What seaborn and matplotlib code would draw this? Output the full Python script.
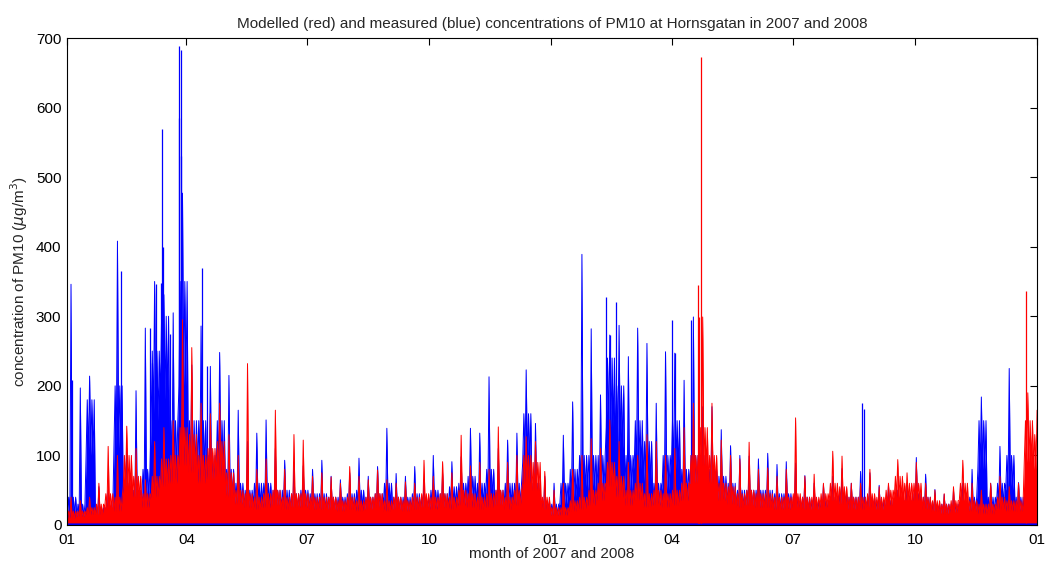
import numpy as np
import pandas as pd
import matplotlib
matplotlib.use("Agg")
import matplotlib.pyplot as plt
import seaborn as sns

# ---------------- data ----------------
start_date = "2007-01-01"
end_date = "2009-01-01"
month_labels = ["01", "04", "07", "10", "01", "04", "07", "10", "01"]
y_ticks = [0, 100, 200, 300, 400, 500, 600, 700]

# weekly maximum spikes (ug/m3), week 0 starts 2007-01-01
blue_max = [346, 197, 214, 55, 50, 408, 110, 193, 283, 350,
            331, 305, 477, 230, 286, 228, 248, 215, 165, 120,
            132, 151, 110, 93, 90, 85, 80, 93, 70, 65,
            75, 96, 70, 84, 139, 74, 70, 84, 65, 100,
            75, 91, 98, 139, 132, 213, 110, 122, 132, 223,
            146, 70, 60, 129, 177, 389, 282, 187, 273, 287,
            242, 283, 261, 175, 249, 247, 208, 299, 170, 170,
            137, 114, 100, 99, 95, 103, 87, 91, 89, 71,
            60, 58, 70, 81, 60, 77, 75, 57, 57, 50,
            60, 97, 73, 51, 44, 50, 60, 80, 184, 60,
            113, 225, 61, 40, 25]
red_max = [40, 35, 40, 60, 113, 100, 142, 110, 65, 120,
           140, 150, 295, 255, 175, 160, 175, 130, 100, 232,
           80, 95, 165, 80, 130, 122, 70, 75, 69, 60,
           84, 70, 65, 79, 65, 60, 62, 60, 93, 70,
           91, 75, 129, 85, 90, 80, 141, 90, 100, 127,
           120, 77, 50, 60, 80, 100, 124, 110, 151, 120,
           90, 100, 130, 120, 100, 110, 140, 175, 299, 175,
           122, 100, 95, 119, 80, 82, 70, 80, 154, 70,
           73, 60, 106, 99, 60, 60, 80, 55, 60, 94,
           75, 90, 60, 50, 45, 55, 93, 60, 50, 60,
           70, 55, 60, 190, 165]
# weekly top of the dense band
blue_mid = [40, 30, 180, 25, 25, 200, 60, 50, 80, 250,
            300, 150, 350, 150, 150, 100, 150, 80, 60, 50,
            60, 60, 50, 50, 45, 50, 45, 45, 40, 40,
            45, 50, 40, 45, 60, 40, 40, 45, 40, 50,
            45, 55, 60, 70, 60, 80, 50, 60, 60, 160,
            60, 35, 30, 60, 80, 100, 100, 100, 240, 200,
            100, 150, 120, 60, 100, 150, 80, 100, 100, 80,
            70, 60, 50, 50, 50, 50, 45, 45, 40, 40,
            35, 35, 40, 45, 40, 40, 40, 35, 35, 35,
            35, 45, 40, 30, 30, 30, 35, 40, 150, 40,
            60, 100, 40, 20, 15]
red_mid = [20, 20, 25, 30, 45, 40, 100, 70, 45, 70,
           95, 100, 140, 130, 100, 110, 120, 75, 50, 45,
           40, 45, 50, 40, 45, 45, 40, 40, 40, 35,
           40, 35, 40, 45, 35, 40, 35, 40, 45, 40,
           45, 40, 50, 45, 40, 45, 50, 40, 50, 100,
           90, 40, 25, 25, 35, 40, 50, 60, 90, 70,
           50, 60, 45, 50, 45, 50, 60, 100, 140, 100,
           60, 55, 45, 50, 45, 45, 40, 40, 45, 40,
           40, 45, 60, 55, 40, 40, 45, 40, 50, 70,
           60, 60, 40, 35, 30, 35, 60, 35, 30, 30,
           40, 35, 35, 150, 130]
# weekly level up to which the band is solid
blue_low = [15, 12, 100, 10, 10, 110, 30, 25, 40, 150,
            180, 80, 200, 80, 80, 50, 80, 40, 30, 25,
            30, 30, 25, 25, 20, 25, 22, 22, 20, 20,
            22, 25, 20, 22, 30, 20, 20, 22, 20, 25,
            22, 28, 30, 35, 30, 40, 25, 30, 30, 90,
            30, 16, 14, 30, 40, 50, 50, 50, 140, 110,
            50, 80, 60, 30, 50, 80, 40, 50, 50, 40,
            35, 30, 25, 25, 25, 25, 22, 22, 20, 20,
            18, 18, 20, 22, 20, 20, 20, 18, 18, 18,
            18, 22, 20, 15, 15, 15, 18, 20, 80, 20,
            30, 50, 20, 10, 8]
red_low = [10, 12, 15, 15, 25, 20, 55, 40, 25, 40,
           55, 60, 85, 75, 60, 65, 70, 40, 30, 25,
           22, 25, 28, 22, 25, 25, 22, 22, 22, 20,
           22, 20, 22, 25, 20, 22, 20, 22, 25, 22,
           25, 22, 28, 25, 22, 25, 28, 22, 28, 60,
           50, 22, 14, 14, 20, 22, 28, 35, 55, 40,
           28, 35, 25, 28, 25, 28, 35, 60, 85, 60,
           35, 30, 25, 28, 25, 25, 22, 22, 25, 22,
           22, 25, 35, 30, 22, 22, 25, 22, 28, 40,
           35, 35, 22, 20, 16, 18, 35, 20, 16, 16,
           22, 20, 20, 90, 80]
red_floor = 3

# individual extra spikes (day since 2007-01-01, value)
blue_extra_day = [4, 40.5, 62.5, 64.3, 66.8, 70.6, 71.3, 72.3, 78, 84.2,
                  84.4, 85.7, 85.8, 102, 105.7, 406.2, 409.2, 414, 456, 458,
                  470, 600.5, 599]
blue_extra_val = [209, 365, 283, 233, 346, 348, 569, 400, 274, 585,
                  688, 683, 530, 370, 228, 328, 273, 321, 294, 247,
                  294, 167, 176]
red_extra_day = [475.3, 476, 477.5, 722.4]
red_extra_val = [345, 299, 673, 336]

title = "Modelled (red) and measured (blue) concentrations of PM10 at Hornsgatan in 2007 and 2008"
xlabel = "month of 2007 and 2008"
ylabel = r"concentration of PM10 ($\mu$g/m$^3$)"

# ---------------- build tables ----------------
step = 7 / 8


def zigzag(mx, mid, low):
    xs, ys = [], []
    for w in range(len(mx)):
        vals = [low[w], mid[w], low[w], mx[w], low[w], mid[w], low[w], mid[w]]
        for k, v in enumerate(vals):
            xs.append(7 * w + step * (k + 0.5))
            ys.append(v)
    return pd.DataFrame({"day": xs, "conc": ys})


blue_df = zigzag(blue_max, blue_mid, blue_low)
red_df = zigzag(red_max, red_mid, red_low)

t0 = pd.Timestamp(start_date)
tick_dates = pd.date_range(start_date, end_date, freq="3MS")
tick_days = [(d - t0).days for d in tick_dates]
total_days = (pd.Timestamp(end_date) - t0).days

# ---------------- plot ----------------
sns.set_theme(style="white")
plt.rcParams["font.family"] = ["Liberation Sans", "DejaVu Sans"]
plt.rcParams["mathtext.fontset"] = "dejavusans"

fig = plt.figure(figsize=(10.46, 5.63), dpi=100)
ax = fig.add_axes([0.064, 0.0675, 0.9274, 0.865])

BLUE = "#0000ff"
RED = "#ff0000"

ax.fill_between(blue_df["day"], 0, blue_df["conc"], color=BLUE, linewidth=0, zorder=1)
sns.lineplot(data=blue_df, x="day", y="conc", ax=ax, color=BLUE, linewidth=0.7,
             estimator=None, sort=False, zorder=1.2)
ax.vlines(blue_extra_day, 0, blue_extra_val, color=BLUE, linewidth=0.9, zorder=1.2)

ax.fill_between(red_df["day"], red_floor, red_df["conc"], color=RED, linewidth=0, zorder=2)
sns.lineplot(data=red_df, x="day", y="conc", ax=ax, color=RED, linewidth=0.7,
             estimator=None, sort=False, zorder=2.2)
ax.vlines(red_extra_day, red_floor, red_extra_val, color=RED, linewidth=0.9, zorder=2.2)

ax.set_xlim(0, total_days)
ax.set_ylim(0, 700)
ax.set_xticks(tick_days)
ax.set_xticklabels(month_labels)
ax.set_yticks(y_ticks)
ax.set_yticklabels([str(v) for v in y_ticks])
ax.tick_params(axis="y", direction="in", length=5, width=0.8, right=True,
               labelsize=11, colors="black", pad=4)
ax.tick_params(axis="x", direction="in", length=5, width=0.8, top=True,
               labelsize=11, colors="black", pad=6)
for s in ax.spines.values():
    s.set_color("black")
    s.set_linewidth(0.8)
    s.set_visible(True)
    s.set_zorder(5)

ax.set_title(title, fontsize=11, pad=7)
ax.set_xlabel(xlabel, fontsize=11, labelpad=0)
ax.set_ylabel(ylabel, fontsize=11, labelpad=4)

fig.savefig("out.png", dpi=100, facecolor="white")
